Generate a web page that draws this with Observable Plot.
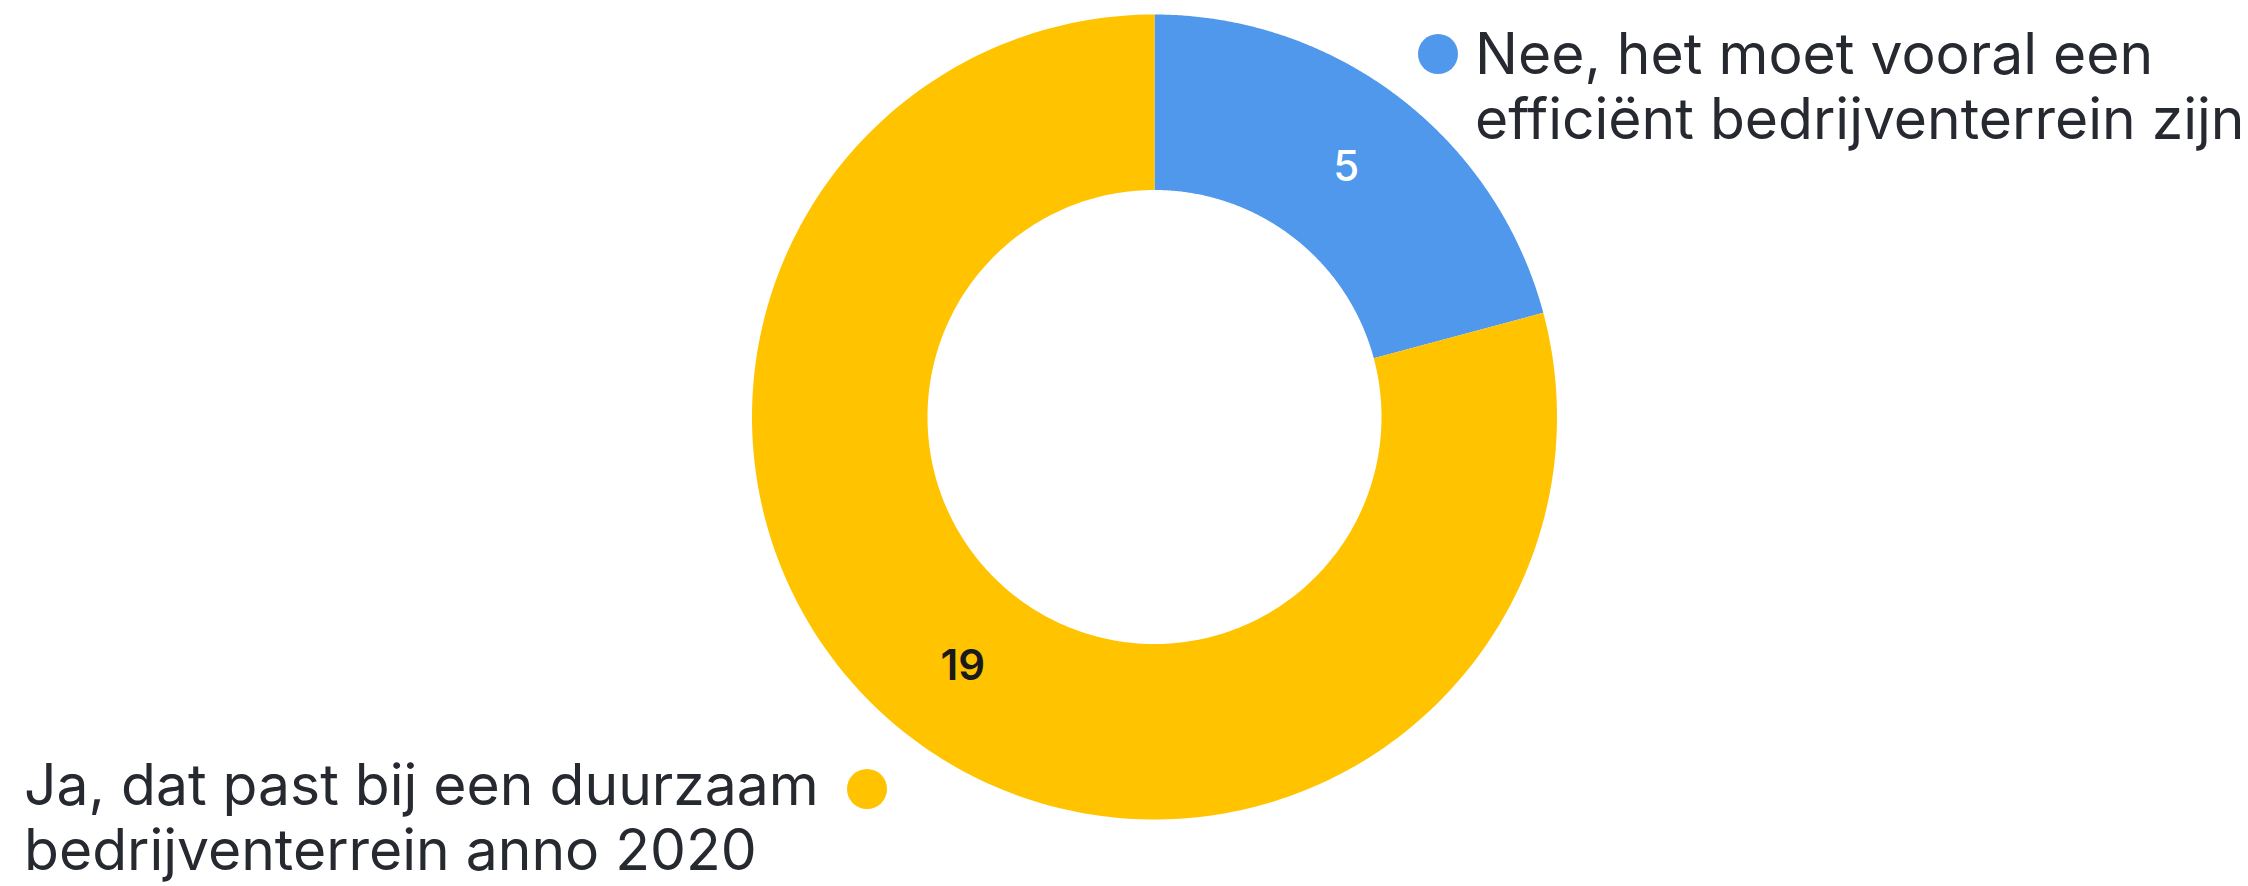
<!DOCTYPE html>
<html>
<head>
<meta charset="utf-8">
<script src="https://cdn.jsdelivr.net/npm/d3@7"></script>
<script src="https://cdn.jsdelivr.net/npm/@observablehq/plot@0.6"></script>
<style>
  html, body { margin: 0; padding: 0; background: #fff; }
  #wrap { position: relative; width: 2248px; height: 886px; overflow: hidden; font-family: Inter, "Noto Sans", sans-serif; }
  .legend { position: absolute; color: #26292f; font-size: 57px; line-height: 65px; white-space: nowrap; letter-spacing: 0; }
</style>
</head>
<body>
<div id="wrap"></div>
<script>
// ---- data ----
const categories = [
  "Nee, het moet vooral een efficiënt bedrijventerrein zijn",
  "Ja, dat past bij een duurzaam bedrijventerrein anno 2020"
];
const legendLines = [
  ["Nee, het moet vooral een", "efficiënt bedrijventerrein zijn"],
  ["Ja, dat past bij een duurzaam", "bedrijventerrein anno 2020"]
];
const values = [5, 19];
const sliceColors = ["#4F98EC", "#FFC300"];
const labelColors = ["#ffffff", "#1a1a1a"];

// ---- geometry (derived from data) ----
const innerR = 0.564, outerR = 1;
const pie = d3.pie().sort(null).value(d => d.value);
const rows = categories.map((c, i) => ({cat: c, value: values[i], i}));
const arcs = pie(rows);

const ring = [];
for (const a of arcs) {
  const n = 240;
  for (let k = 0; k <= n; k++) {
    const t = a.startAngle + (a.endAngle - a.startAngle) * k / n;
    ring.push({cat: a.data.cat, x: outerR * Math.sin(t), y: outerR * Math.cos(t)});
  }
  for (let k = n; k >= 0; k--) {
    const t = a.startAngle + (a.endAngle - a.startAngle) * k / n;
    ring.push({cat: a.data.cat, x: innerR * Math.sin(t), y: innerR * Math.cos(t)});
  }
}
const labels = arcs.map(a => {
  const m = (a.startAngle + a.endAngle) / 2, r = (innerR + outerR) / 2;
  return {cat: a.data.cat, text: String(a.data.value), x: r * Math.sin(m), y: r * Math.cos(m), color: labelColors[a.data.i], i: a.data.i};
});

// ---- layout ----
const W = 2248, H = 886, cx = 1154, cy = 416.5, R = 402.5;

const chart = Plot.plot({
  width: W, height: H, margin: 0,
  style: {background: "#fff"},
  x: {domain: [-cx / R, (W - cx) / R], range: [0, W], axis: null},
  y: {domain: [-(H - cy) / R, cy / R], range: [H, 0], axis: null},
  color: {domain: categories, range: sliceColors},
  marks: [
    Plot.line(ring, {x: "x", y: "y", z: "cat", fill: "cat", stroke: "none", curve: "linear-closed"}),
    Plot.text(labels.filter(d => d.i === 0), {x: "x", y: "y", text: "text", fill: d => d.color, fontSize: 42, fontWeight: 500, fontFamily: "Inter, sans-serif"}),
    Plot.text(labels.filter(d => d.i === 1), {x: "x", y: "y", text: "text", fill: d => d.color, fontSize: 42, fontWeight: 600, fontFamily: "Inter, sans-serif"})
  ]
});
const wrap = document.getElementById("wrap");
wrap.appendChild(chart);

// ---- legend (HTML) ----
function legend(lines, color, pos, dotPos) {
  const el = document.createElement("div");
  el.className = "legend";
  Object.assign(el.style, pos);
  el.innerHTML = lines.map(l => `<div>${l}</div>`).join("");
  wrap.appendChild(el);
  const dot = document.createElement("div");
  Object.assign(dot.style, dotPos, {position: "absolute", width: "40px", height: "40px", borderRadius: "50%", background: color});
  wrap.appendChild(dot);
}
legend(legendLines[0], sliceColors[0], {left: "1475px", top: "21px"}, {left: "1418px", top: "34px"});
legend(legendLines[1], sliceColors[1], {left: "24px", top: "752px"}, {left: "847px", top: "769px"});
</script>
</body>
</html>
